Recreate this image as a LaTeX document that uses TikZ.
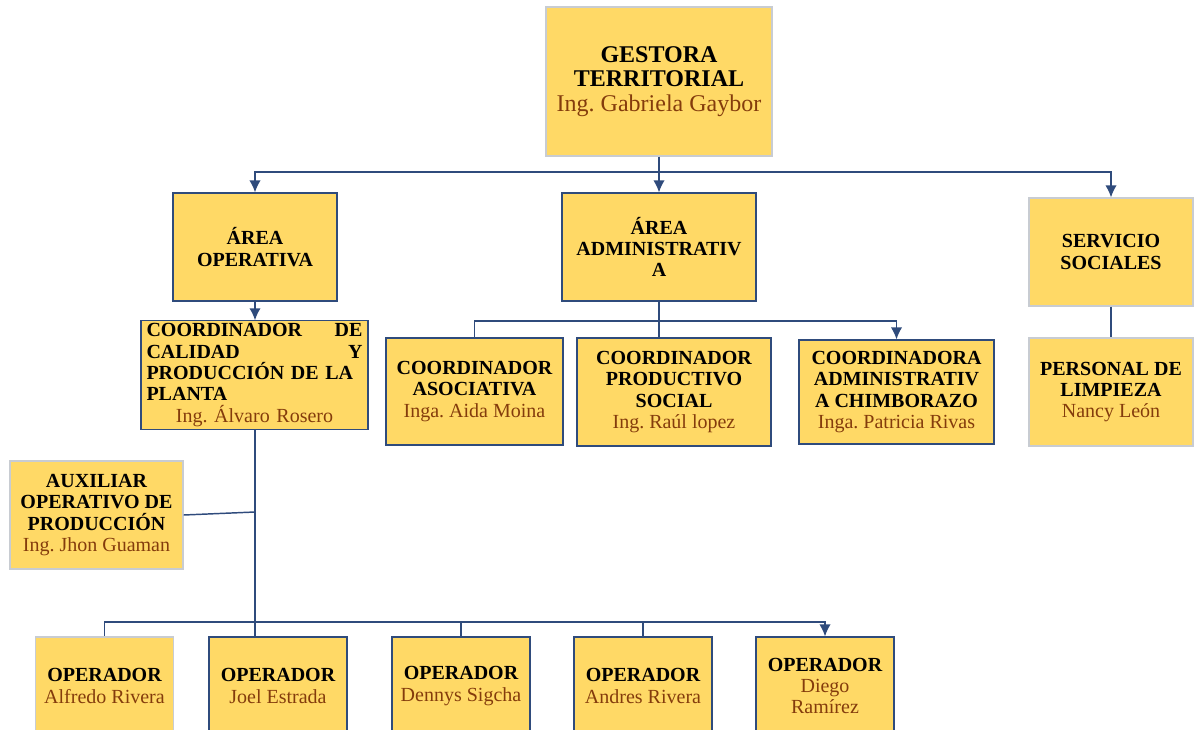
\documentclass[tikz,border=0pt]{standalone}
\usepackage{fontspec}
\setmainfont{Liberation Serif}
\usepackage{tikz}
\usetikzlibrary{shapes,arrows.meta}
\frenchspacing
\definecolor{boxgold}{HTML}{FFD966}
\definecolor{edgeblue}{HTML}{2F4B7C}
\definecolor{softgray}{HTML}{C8CCD2}
\definecolor{namebrown}{HTML}{843C0C}
\tikzstyle{orgblock} = [rectangle, draw=edgeblue, line width=0.9pt, fill=boxgold,
    align=center, inner sep=2pt, font=\fontsize{15}{16}\selectfont\bfseries]
\tikzstyle{paleblock} = [orgblock, draw=softgray]
\tikzstyle{opblock} = [orgblock, minimum width=103.5pt, minimum height=73.5pt]
\tikzstyle{link} = [draw=edgeblue, line width=1.1pt]
\tikzstyle{line} = [link, -{Latex[length=9pt,width=8.5pt]}]
\newcommand{\who}[1]{{\color{namebrown}\mdseries #1}}

\begin{document}
\begin{tikzpicture}[x=0.75pt, y=-0.75pt]
    \useasboundingbox (0,0) rectangle (1199,729);
    \node [paleblock, minimum width=169.5pt, minimum height=111.75pt, font=\fontsize{18}{18.5}\selectfont\bfseries] (gestora) at (659,81.5) {GESTORA\\ TERRITORIAL\\ \who{Ing. Gabriela Gaybor}};
    \node [orgblock, minimum width=123pt, minimum height=81pt] (areaop) at (255,247) {ÁREA\\ OPERATIVA};
    \node [orgblock, minimum width=145.5pt, minimum height=81pt] (areaadm) at (659,247) {ÁREA\\ ADMINISTRATIV\\ A};
    \node [paleblock, minimum width=123pt, minimum height=81pt] (servicio) at (1111,252) {SERVICIO\\ SOCIALES};
    \node [orgblock, minimum width=170.25pt, minimum height=81pt, text width=162pt, align=left] (calidad) at (254.5,375)
        {COORDINADOR\hfill DE\\ CALIDAD\hfill Y\\ PRODUCCIÓN DE LA\\ PLANTA\\ \makebox[162pt]{\who{Ing. Álvaro Rosero}}};
    \node [orgblock, minimum width=132.75pt, minimum height=80.25pt] (asociativa) at (474.5,391.5) {COORDINADOR\\ ASOCIATIVA\\ \who{Inga. Aida Moina}};
    \node [orgblock, minimum width=145.5pt, minimum height=81pt] (productivo) at (674,392) {COORDINADOR\\ PRODUCTIVO\\ SOCIAL\\ \who{Ing. Raúl lopez}};
    \node [orgblock, minimum width=146.25pt, minimum height=78pt] (coordadm) at (896.5,392) {COORDINADORA\\ ADMINISTRATIV\\ A CHIMBORAZO\\ \who{Inga. Patricia Rivas}};
    \node [paleblock, minimum width=123pt, minimum height=81pt] (limpieza) at (1111,392) {PERSONAL DE\\ LIMPIEZA\\ \who{Nancy León}};
    \node [paleblock, minimum width=129.75pt, minimum height=81pt] (auxiliar) at (96.5,515) {AUXILIAR\\ OPERATIVO DE\\ PRODUCCIÓN\\ \who{Ing. Jhon Guaman}};
    \node [opblock, draw=softgray] (alfredo) at (104.5,686) {OPERADOR\\ \who{Alfredo Rivera}};
    \node [opblock] (joel) at (278,686) {OPERADOR\\ \who{Joel Estrada}};
    \node [opblock] (dennys) at (461,686) {OPERADOR\\ \who{Dennys Sigcha}};
    \node [opblock] (andres) at (643,686) {OPERADOR\\ \who{Andres Rivera}};
    \node [opblock] (diego) at (825,686) {OPERADOR\\ \who{Diego}\\ \who{Ramírez}};
    % Draw edges
    \coordinate (topbus) at (659,172);
    \coordinate (admbus) at (659,321);
    \coordinate (auxjoin) at (255,512);
    \coordinate (opbus) at (255,622);
    \path[link] (gestora.south) -- (topbus);
    \path[line] (topbus) -| (areaop.north);
    \path[line] (topbus) -- (areaadm.north);
    \path[line] (topbus) -| (servicio.north);
    \path[line] (areaop.south) -- (areaop.south |- calidad.north);
    \path[link] (areaadm.south) -- (admbus);
    \path[link] (admbus) -| (asociativa.north);
    \path[link] (admbus) -- (admbus |- productivo.north);
    \path[line] (admbus) -| (coordadm.north);
    \path[link] (servicio) -- (limpieza);
    \path[link] (calidad.south -| auxjoin) -- (auxjoin |- joel.north);
    \path[link] (auxiliar.east) -- (auxjoin);
    \path[link] (opbus) -| (alfredo.north);
    \path[link] (opbus) -| (dennys.north);
    \path[link] (opbus) -| (andres.north);
    \path[line] (opbus) -| (diego.north);
\end{tikzpicture}
\end{document}
